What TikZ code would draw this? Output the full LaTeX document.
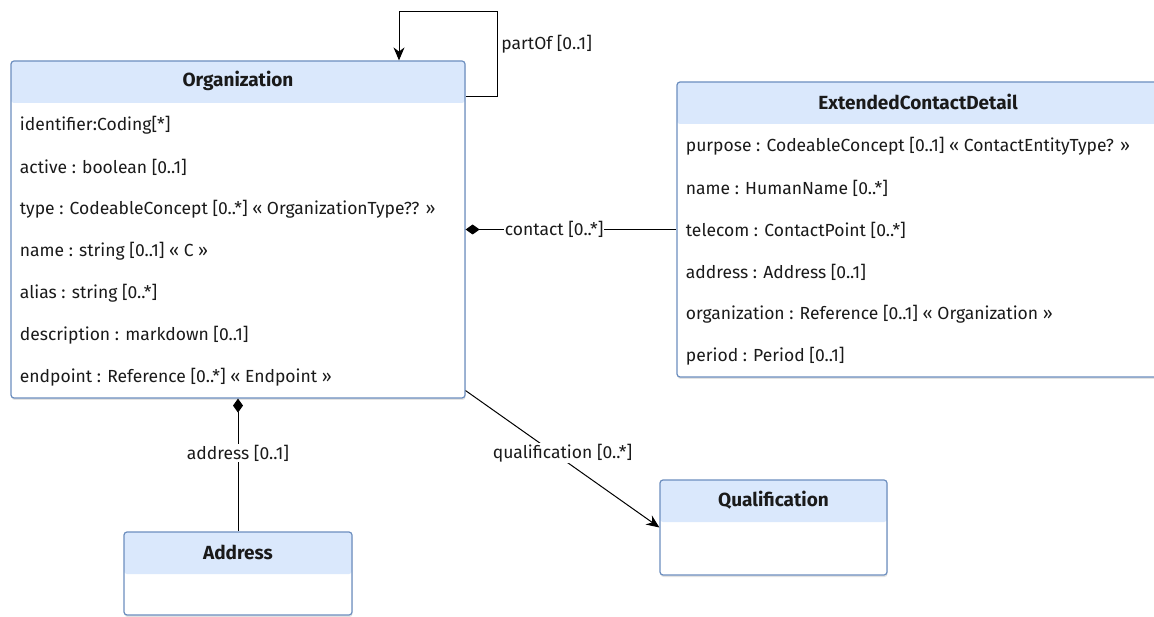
\documentclass[tikz,border=0pt]{standalone}
\usepackage{fontspec}
\setmainfont{Fira Sans}
\usetikzlibrary{arrows.meta, shadows, positioning, calc}
\definecolor{umlhead}{HTML}{DAE8FC}
\definecolor{umlline}{HTML}{6C8EBF}
\definecolor{umltext}{HTML}{1A1A1A}

\begin{document}
\begin{tikzpicture}[x=1pt, y=-1pt, line width=1pt, text=umltext,
        classbox/.style = {draw=umlline, fill=white, rounded corners=3pt, inner sep=0pt,
            line width=1.2pt,
            drop shadow={opacity=0.22, shadow xshift=0.5pt, shadow yshift=-2pt},
            path picture={\fill[umlhead] (path picture bounding box.north west)
                rectangle ([yshift=-42pt]path picture bounding box.north east);}},
        classname/.style = {font=\fontsize{19}{22}\selectfont\bfseries},
        attr/.style = {anchor=west, inner sep=0pt, font=\fontsize{17.5}{21}\selectfont},
        role/.style = {fill=white, inner sep=1pt, font=\fontsize{17.5}{21}\selectfont},
        comp/.style = {{Diamond[length=14pt, width=10pt]}-},
        assoc/.style = {-{Stealth[length=13pt, width=11pt]}}]
    \useasboundingbox (0,0) rectangle (1154,617);

    \node[classbox, minimum width=454pt, minimum height=337pt] (org) at (238,229.5) {};
    \node[classname] (orgname) at ([yshift=-21pt]org.north) {Organization};
    \foreach \a [count=\i] in {{identifier:Coding[*]}, {active : boolean [0..1]},
            {type : CodeableConcept [0..*] « OrganizationType?? »}, {name : string [0..1] « C »},
            {alias : string [0..*]}, {description : markdown [0..1]},
            {endpoint : Reference [0..*] « Endpoint »}}
        \node[attr] (orgattr\i) at ([xshift=9pt, yshift={-(23+42*\i)*1pt}]org.north west) {\a};

    \node[classbox, minimum width=482pt, minimum height=295pt] (ecd) at (918,229.5) {};
    \node[classname] (ecdname) at ([yshift=-21pt]ecd.north) {ExtendedContactDetail};
    \foreach \a [count=\i] in {{purpose : CodeableConcept [0..1] « ContactEntityType? »},
            {name : HumanName [0..*]}, {telecom : ContactPoint [0..*]},
            {address : Address [0..1]}, {organization : Reference [0..1] « Organization »},
            {period : Period [0..1]}}
        \node[attr] (ecdattr\i) at ([xshift=9pt, yshift={-(23+42*\i)*1pt}]ecd.north west) {\a};

    \node[classbox, minimum width=228pt, minimum height=83pt] (addr) at (238,573.5) {};
    \node[classname] (addrname) at ([yshift=-21pt]addr.north) {Address};

    \node[classbox, minimum width=227pt, minimum height=95pt] (qual) at (773.5,527.5) {};
    \node[classname] (qualname) at ([yshift=-21pt]qual.north) {Qualification};

    \draw[assoc] ([yshift=-36pt]org.north east) -- ++(32,0)
        -- node[right, pos=0.61, font=\fontsize{17.5}{21}\selectfont] {partOf [0..1]} ++(0,-85)
        -| ([xshift=161pt]org.north);
    \draw[comp] (org.east) -- node[role, pos=0.42] {contact [0..*]} (ecd.west);
    \draw[comp] (org.south) -- node[role, pos=0.41] {address [0..1]} (addr.north);
    \draw[assoc] ([yshift=8pt]org.south east) -- node[role, pos=0.5, yshift=6pt] {qualification [0..*]} (qual.west);
\end{tikzpicture}
\end{document}
